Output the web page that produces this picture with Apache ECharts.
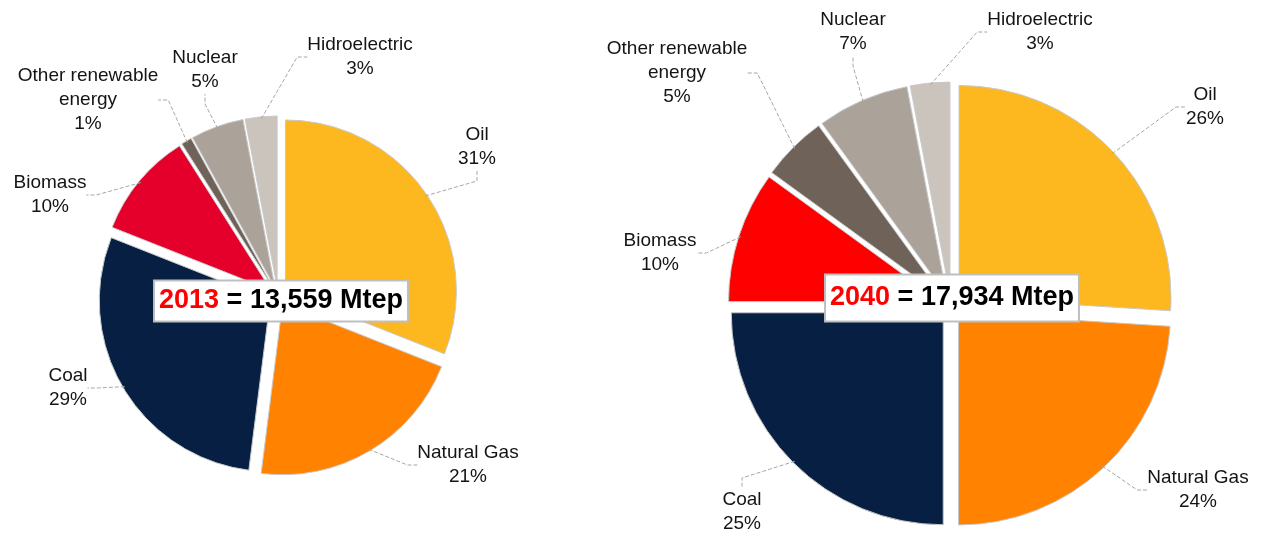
<!DOCTYPE html>
<html>
<head>
<meta charset="utf-8">
<script src="https://cdn.jsdelivr.net/npm/echarts@6/dist/echarts.min.js"></script>
<style>
  html, body { margin: 0; padding: 0; background: #fff; }
  #chart { width: 1265px; height: 534px; }
</style>
</head>
<body>
<div id="chart"></div>
<script>
// energy sources, clockwise from 12 o'clock
var sources = ['Oil', 'Natural Gas', 'Coal', 'Biomass', 'Other renewable\nenergy', 'Nuclear', 'Hidroelectric']
var share2013 = [31, 21, 29, 10, 1, 5, 3]
var share2040 = [26, 24, 25, 10, 5, 7, 3]
var total2013 = '13,559 Mtep'
var total2040 = '17,934 Mtep'

var colors2013 = ['#FDB71F', '#FF8300', '#061F42', '#E4002B', '#6E6259', '#ABA39A', '#CBC4BD']
var colors2040 = ['#FDB71F', '#FF8300', '#061F42', '#FF0000', '#6E6259', '#ABA39A', '#CBC4BD']

// where each label block sits (text centre)
var labelPos2013 = [[477, 147], [468, 465], [68, 388], [50, 195], [88, 100], [205, 70], [360, 57]]
var labelPos2040 = [[1205, 107], [1198, 490], [742, 512], [660, 253], [677, 73], [853, 32], [1040, 32]]

var font = "'Liberation Sans', Arial, sans-serif"

// exploded slices, no labels
function pieSeries(values, colors, center, radius, offset) {
  return {
    type: 'pie',
    center: center,
    radius: radius,
    startAngle: 90,
    clockwise: true,
    selectedMode: 'multiple',
    selectedOffset: offset,
    emphasis: { disabled: true },
    itemStyle: { borderColor: '#c9c9c9', borderWidth: 1 },
    select: { itemStyle: { borderColor: '#c9c9c9', borderWidth: 1 } },
    label: { show: false },
    labelLine: { show: false },
    data: sources.map(function (name, i) {
      return { name: name, value: values[i], selected: true, itemStyle: { color: colors[i] } }
    })
  }
}

// invisible twin pie that only carries the labels and leader lines
function labelSeries(values, labelPos, center, radius) {
  return {
    type: 'pie',
    center: center,
    radius: radius,
    startAngle: 90,
    clockwise: true,
    silent: true,
    z: 3,
    avoidLabelOverlap: false,
    emphasis: { disabled: true },
    itemStyle: { color: 'transparent', borderWidth: 0 },
    label: {
      show: true,
      position: 'outside',
      formatter: '{b}\n{c}%',
      color: '#141414',
      fontFamily: font,
      fontSize: 19,
      lineHeight: 24,
      align: 'center'
    },
    labelLine: {
      show: true,
      length: 10,
      length2: 10,
      lineStyle: { color: '#a6a6a6', width: 1, type: 'dashed' }
    },
    labelLayout: function (p) {
      var pos = labelPos[p.dataIndex]
      return { x: pos[0], y: pos[1], align: 'center', verticalAlign: 'middle' }
    },
    data: sources.map(function (name, i) {
      return { name: name, value: values[i] }
    })
  }
}

function totalBox(year, total, x, y, pad) {
  return {
    type: 'text',
    x: x,
    y: y,
    z: 100,
    style: {
      text: '{y|' + year + '} = ' + total,
      rich: { y: { fill: '#FF0000', color: '#FF0000', font: 'bold 27px ' + font } },
      font: 'bold 27px ' + font,
      fill: '#000',
      align: 'center',
      verticalAlign: 'middle',
      backgroundColor: '#fff',
      borderColor: '#bfbfbf',
      borderWidth: 2,
      padding: pad
    }
  }
}

var chart = echarts.init(document.getElementById('chart'))
chart.setOption({
  animation: false,
  series: [
    pieSeries(share2013, colors2013, [278, 296], 171, 9),
    pieSeries(share2040, colors2040, [951, 305], 212, 11),
    labelSeries(share2013, labelPos2013, [278, 296], 178),
    labelSeries(share2040, labelPos2040, [951, 305], 221)
  ],
  graphic: [
    totalBox('2013', total2013, 281, 301, [6, 4]),
    totalBox('2040', total2040, 952, 298, [9, 4])
  ]
})
</script>
</body>
</html>
